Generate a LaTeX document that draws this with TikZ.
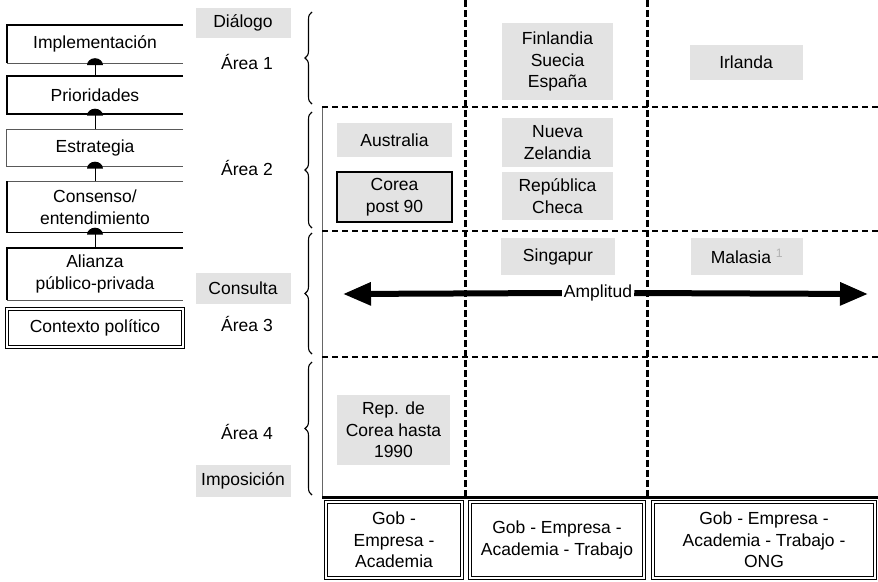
\documentclass[tikz,border=0pt]{standalone}
\usepackage{fontspec}
\setmainfont{Liberation Sans}
\usetikzlibrary{arrows.meta}
\usetikzlibrary{positioning,decorations.pathreplacing}

\begin{document}
\begin{tikzpicture}[
x=1pt,y=-1pt,
every node/.style={font=\fontsize{17.5}{21.5}\selectfont,align=center,inner sep=0pt},
GrayBox/.style={fill=black!11,minimum width=112pt,minimum height=36pt},
StackBox/.style={minimum width=176pt},
Frame/.style={draw=black,line width=1.4pt},
ThinFrame/.style={draw=black!65,line width=0.7pt},
Stem/.style={draw=black,line width=1pt},
Braces/.style={decorate,decoration={brace,amplitude=7pt},line width=1.1pt},
Dividers/.style={dash pattern=on 6pt off 4pt,line width=1.2pt},
VDividers/.style={dash pattern=on 7pt off 3pt,line width=3pt},
BottomBox/.style={draw,double,double distance=1.6pt,line width=1pt,minimum height=76pt},
BigArrow/.style={line width=6pt,-{Triangle[length=28pt,width=22pt]}}
]
\useasboundingbox (0,0) rectangle (878,581);

% left stack
\node[StackBox,minimum height=38pt] (impl) at (95,44) {Implementación};
\node[StackBox,minimum height=37pt] (prior) at (95,95) {Prioridades};
\node[StackBox,minimum height=37pt] (estr) at (95,148) {Estrategia};
\node[StackBox,minimum height=51pt] (cons) at (95,207) {Consenso/\\entendimiento};
\node[StackBox,minimum height=52pt] (alia) at (95,274) {Alianza\\público-privada};
\node[StackBox,minimum height=38pt,draw,double,double distance=1.3pt,line width=1pt] (ctx) at (95,328) {Contexto político};

\draw[Frame] (impl.north east) -- (impl.north west) -- (impl.south west);
\draw[ThinFrame] (impl.south west) -- (impl.south east);
\draw[Frame,line width=2.2pt] (prior.north east) -- (prior.north west) -- (prior.south west) -- (prior.south east);
\draw[ThinFrame] (estr.north east) -- (estr.north west) -- (estr.south west) -- (estr.south east);
\draw[ThinFrame] (cons.north east) -- (cons.north west);
\draw[Frame] (cons.north west) -- (cons.south west) -- (cons.south east);
\draw[Frame] (alia.north east) -- (alia.north west) -- (alia.south west);
\draw[ThinFrame] (alia.south west) -- (alia.south east);

% knobs between the stack boxes
\foreach \lo/\up in {prior/impl,estr/prior,cons/estr,alia/cons}{
  \draw[Stem] (\lo.north) -- (\up.south);
  \fill ([shift={(-8pt,-2pt)}]\up.south) arc[start angle=180,end angle=0,x radius=8pt,y radius=7pt] -- cycle;
}

% labels column
\node[GrayBox,minimum width=95pt,minimum height=30pt] (dial) at (243,23) {Diálogo};
\node (a1) at (247,62) {Área 1};
\node (a2) at (247,168) {Área 2};
\node[GrayBox,minimum width=95pt,minimum height=31pt] (cons2) at (243,288) {Consulta};
\node (a3) at (247,324) {Área 3};
\node (a4) at (247,432) {Área 4};
\node[GrayBox,minimum width=95pt,minimum height=32pt] (impo) at (243,481) {Imposición};

% braces
\draw[Braces] (312,104) -- (312,12);
\draw[Braces] (312,228) -- (312,112);
\draw[Braces] (312,354) -- (312,233);
\draw[Braces] (312,495) -- (312,362);

% grid
\draw[black!60,line width=0.8pt] (322,107) -- (322,497);
\draw[Dividers] (322,107) -- (878,107);
\draw[Dividers,line width=2.4pt] (322,107) -- (465,107);
\draw[Dividers] (322,231) -- (878,231);
\draw[Dividers] (322,357) -- (878,357);
\draw[VDividers] (465,0) -- (465,497);
\draw[VDividers] (647,0) -- (647,497);
\draw[line width=3pt] (322,497) -- (878,497);

% countries
\node[GrayBox,minimum width=111pt,minimum height=77pt] (fin) at (557.5,61.5) {Finlandia\\Suecia\\España};
\node[GrayBox,minimum width=113pt,minimum height=35pt] (irl) at (746,62) {Irlanda};
\node[GrayBox,minimum width=115pt,minimum height=34pt] (aus) at (394.5,140) {Australia};
\node[GrayBox,minimum width=115pt,minimum height=50pt,draw,line width=1.6pt] (kor90) at (394.5,197) {Corea\\post 90};
\node[GrayBox,minimum width=111pt,minimum height=49pt] (nz) at (557.5,142.5) {Nueva\\Zelandia};
\node[GrayBox,minimum width=111pt,minimum height=48pt] (cze) at (557.5,196) {República\\Checa};
\node[GrayBox,minimum width=114pt,minimum height=37pt] (sing) at (558,256.5) {Singapur};
\node[GrayBox,minimum width=112pt,minimum height=37pt] (mal) at (747,256.5) {Malasia {\color{black!30}\textsuperscript{1}}};
\node[GrayBox,minimum width=113pt,minimum height=70pt] (kor) at (393.5,430) {Rep. de\\Corea hasta\\1990};

% amplitud
\coordinate (ampL) at (343,294);
\coordinate (ampR) at (868,294);
\node[fill=white,inner sep=2pt] (ampl) at (598,293) {Amplitud};
\draw[BigArrow] (ampl.west) -- (ampL);
\draw[BigArrow] (ampl.east) -- (ampR);

% actors
\node[BottomBox,minimum width=136pt] (act1) at (394,540) {Gob -\\Empresa -\\Academia};
\node[BottomBox,minimum width=174pt] (act2) at (557,540) {Gob - Empresa -\\Academia - Trabajo};
\node[BottomBox,minimum width=222pt] (act3) at (764,540) {Gob - Empresa -\\Academia - Trabajo -\\ONG};

\end{tikzpicture}
\end{document}
